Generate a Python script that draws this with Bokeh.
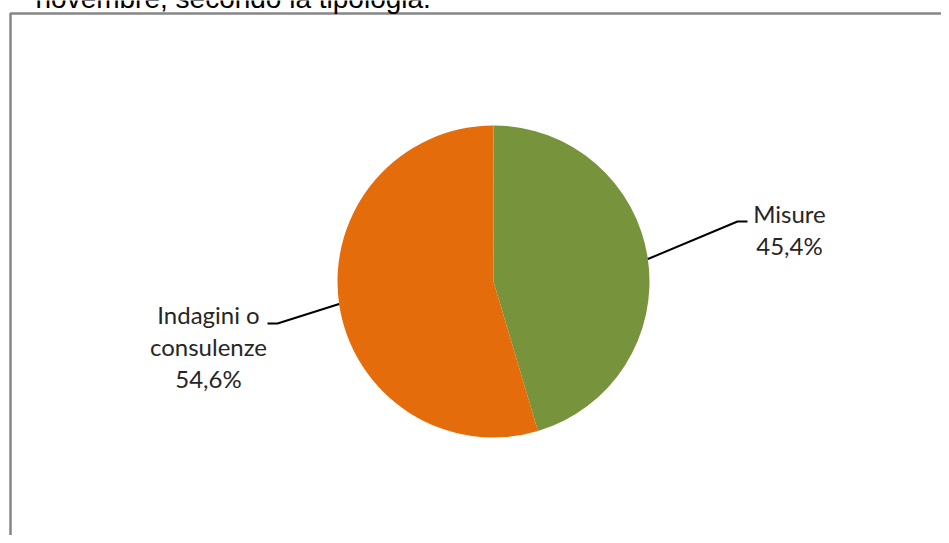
import math
from bokeh.plotting import figure
from bokeh.models import Range1d, ColumnDataSource
from bokeh.core.properties import value
from bokeh.embed import file_html
from bokeh.resources import INLINE

# ---- data ----
categories = ["Misure", "Indagini o consulenze"]
label_lines = ["Misure", "Indagini o\nconsulenze"]
shares = [45.4, 54.6]
colors = ["#77933C", "#E46C0A"]
title_text = "novembre, secondo la tipologia."

W, H = 941, 535
p = figure(width=W, height=H, output_backend="svg", toolbar_location=None,
           x_range=Range1d(0, W), y_range=Range1d(0, H), min_border=0)
p.axis.visible = False
p.grid.visible = False
p.outline_line_color = None
p.background_fill_color = "white"
p.border_fill_color = "white"

cx, cy, r = 493, 254, 156

# wedges, clockwise from 12 o'clock
total = sum(shares)
starts, ends, mids = [], [], []
acc = 0.0
for s in shares:
    a0 = math.pi / 2 - 2 * math.pi * acc / total
    acc += s
    a1 = math.pi / 2 - 2 * math.pi * acc / total
    starts.append(a0)
    ends.append(a1)
    mids.append((a0 + a1) / 2)

src = ColumnDataSource(dict(start=starts, end=ends, color=colors, cat=categories))
p.wedge(x=cx, y=cy, radius=r, start_angle="start", end_angle="end",
        direction="clock", fill_color="color", line_color=None, source=src)

# leader lines and labels
elbows = [(737, 314, 747), (277, 212, 267)]
label_pos = [(789, 306), (208, 189)]
for i in range(len(categories)):
    sx = cx + r * math.cos(mids[i])
    sy = cy + r * math.sin(mids[i])
    ex, ey, hx = elbows[i]
    p.line([sx, ex, hx], [sy, ey, ey], line_color="black", line_width=2)
    pct = f"{shares[i]:.1f}%".replace(".", ",")
    lx, ly = label_pos[i]
    p.text(x=[lx], y=[ly], text=[label_lines[i] + "\n" + pct],
           text_align="center", text_baseline="middle",
           text_font=value("Lato"), text_font_size="24px",
           text_line_height=1.1, text_color="#262626")

# frame
p.line([10, 10, W + 5], [-5, 522, 522], line_color="#868686", line_width=2.5)

# clipped title
p.text(x=[35], y=[537], text=[title_text], text_align="left",
       text_baseline="alphabetic", text_font=value("Liberation Sans"),
       text_font_size="28px", text_color="black")

open("out.html", "w").write(file_html(p, INLINE))
